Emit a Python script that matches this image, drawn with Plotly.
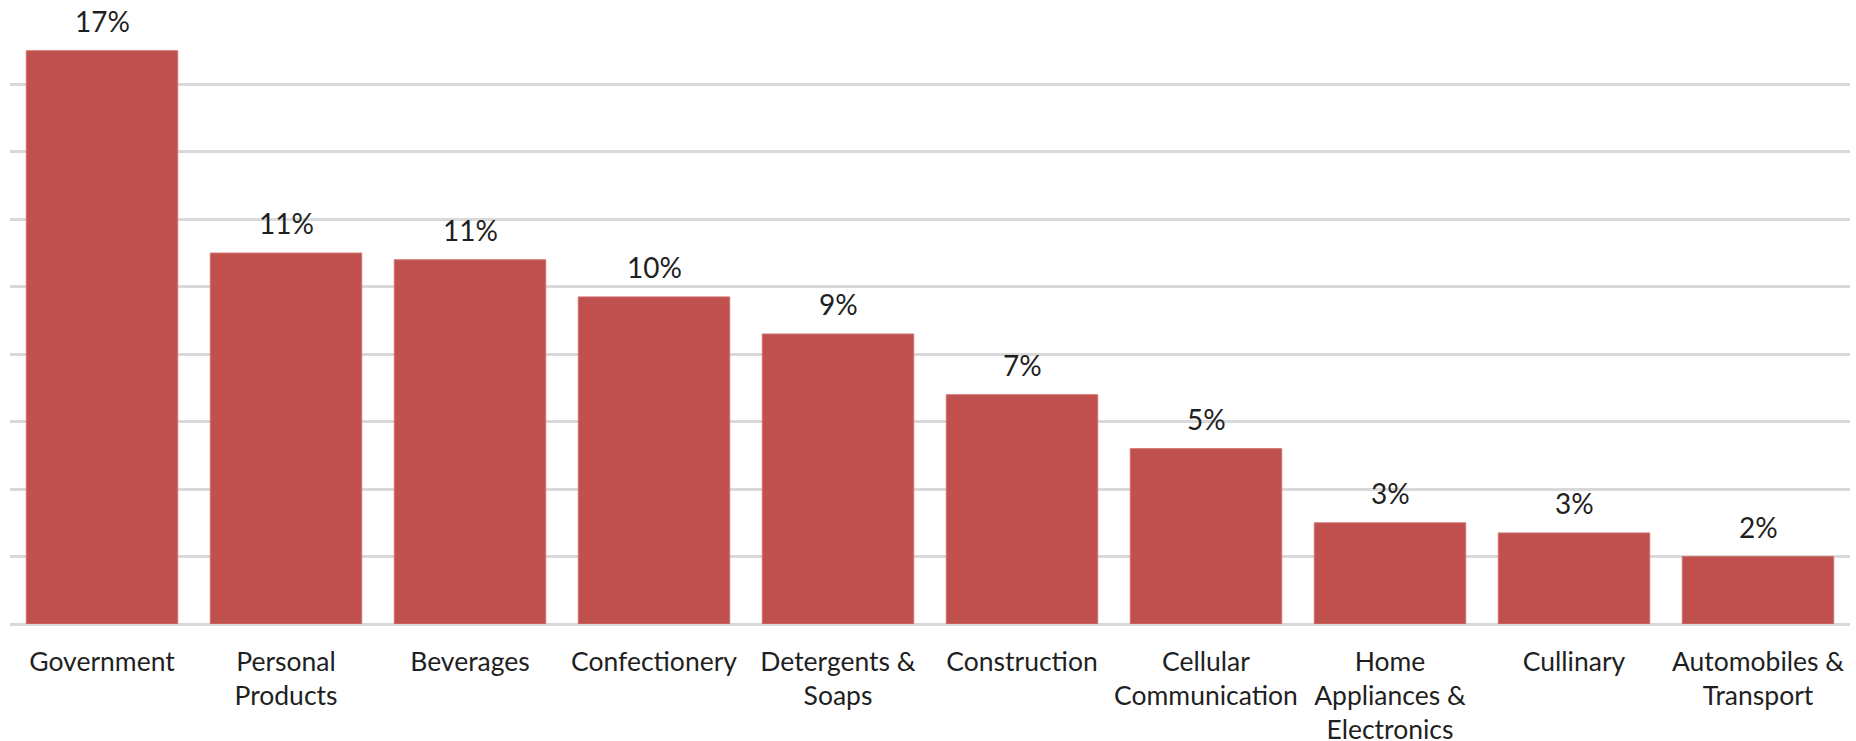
import plotly.graph_objects as go

categories = [
    "Government", "Personal<br>Products", "Beverages", "Confectionery",
    "Detergents &<br>Soaps", "Construction", "Cellular<br>Communication",
    "Home<br>Appliances &<br>Electronics", "Cullinary", "Automobiles &<br>Transport",
]
shares = [0.170, 0.110, 0.108, 0.097, 0.086, 0.068, 0.052, 0.030, 0.027, 0.020]

BAR_COLOR = "#C0504D"
TEXT_COLOR = "#1f1f1f"
GRID_COLOR = "#D9D9D9"
FONT = "Lato"

fig = go.Figure()
fig.add_trace(go.Bar(
    x=categories,
    y=shares,
    marker=dict(color=BAR_COLOR, line=dict(color="#D07370", width=1)),
    hoverinfo="x+y",
))

for c, v in zip(categories, shares):
    fig.add_annotation(
        x=c, y=v, text=f"{v:.0%}", showarrow=False,
        xref="x", yref="y", yanchor="middle", yshift=30,
        font=dict(family=FONT, size=28, color=TEXT_COLOR),
    )

fig.update_layout(
    width=1856, height=741,
    margin=dict(l=9.5, r=6, t=16.5, b=117, pad=0),
    plot_bgcolor="white", paper_bgcolor="white",
    bargap=0.177,
    showlegend=False,
    font=dict(family=FONT, size=26.5, color=TEXT_COLOR),
    xaxis=dict(
        showgrid=False, showline=False, zeroline=False, automargin=False,
        ticks="", tickfont=dict(family=FONT, size=26.5, color=TEXT_COLOR),
        ticklabelstandoff=19,
    ),
    yaxis=dict(
        range=[0, 0.18], dtick=0.02, tick0=0, automargin=False,
        showgrid=True, gridcolor=GRID_COLOR, gridwidth=2.5,
        zeroline=True, zerolinecolor=GRID_COLOR, zerolinewidth=2.5,
        showticklabels=False, ticks="", showline=False,
    ),
)

fig.write_html(
    "out.html",
    config={"displayModeBar": False},
    post_script="document.body.style.margin='0';document.body.style.overflow='hidden';",
)
